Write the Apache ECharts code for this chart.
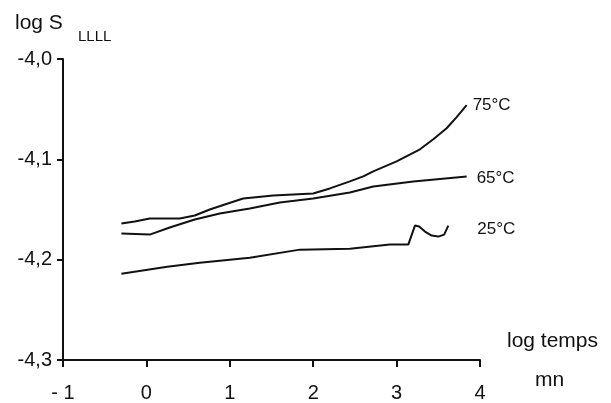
<!DOCTYPE html>
<html>
<head>
<meta charset="utf-8">
<script src="https://cdn.jsdelivr.net/npm/echarts@6/dist/echarts.min.js"></script>
<style>
html,body{margin:0;padding:0;background:#fff;}
#chart{width:611px;height:403px;}
</style>
</head>
<body>
<div id="chart"></div>
<script>
// data: [log temps (mn), log S]
var series75 = [[-0.3,-4.164],[-0.14,-4.162],[0.04,-4.159],[0.40,-4.159],[0.58,-4.156],[0.76,-4.150],[0.94,-4.145],[1.16,-4.139],[1.52,-4.136],[2.00,-4.134],[2.20,-4.129],[2.44,-4.122],[2.60,-4.117],[2.72,-4.112],[3.00,-4.102],[3.28,-4.090],[3.44,-4.080],[3.60,-4.069],[3.72,-4.058],[3.84,-4.046]];
var series65 = [[-0.3,-4.174],[0.04,-4.175],[0.28,-4.168],[0.58,-4.160],[0.88,-4.154],[1.24,-4.149],[1.60,-4.143],[2.00,-4.139],[2.44,-4.133],[2.72,-4.127],[3.20,-4.122],[3.84,-4.117]];
var series25 = [[-0.3,-4.214],[0.25,-4.207],[0.64,-4.203],[1.24,-4.198],[1.84,-4.190],[2.44,-4.189],[2.92,-4.185],[3.14,-4.185],[3.22,-4.166],[3.27,-4.167],[3.34,-4.172],[3.42,-4.176],[3.50,-4.177],[3.57,-4.175],[3.62,-4.166]];
var seriesNames = ['75°C','65°C','25°C'];
var xTicks = [-1,0,1,2,3,4];
var yTicks = [-4.3,-4.2,-4.1,-4.0];

var chart = echarts.init(document.getElementById('chart'));
var font = 'Liberation Sans, Arial, sans-serif';
function mk(name, data, dist, off) {
  return {
    name: name, type: 'line', data: data, showSymbol: false, symbol: 'none',
    lineStyle: {color: '#111', width: 2}, animation: false,
    endLabel: {show: true, formatter: name, color: '#111', fontFamily: font, fontSize: 17, distance: dist, offset: off}
  };
}
chart.setOption({
  animation: false,
  grid: {left: 63, right: 131, top: 59, bottom: 42},
  xAxis: {
    type: 'value', min: xTicks[0], max: xTicks[xTicks.length - 1], interval: 1,
    axisLine: {show: true, onZero: false, lineStyle: {color: '#111', width: 2}},
    axisTick: {show: true, length: 7, lineStyle: {color: '#111', width: 2}},
    splitLine: {show: false},
    axisLabel: {color: '#111', fontFamily: font, fontSize: 20, margin: 23,
      formatter: function (v) { return v === -1 ? '- 1' : String(v); }}
  },
  yAxis: {
    type: 'value', min: yTicks[0], max: yTicks[yTicks.length - 1], interval: 0.1,
    axisLine: {show: true, onZero: false, lineStyle: {color: '#111', width: 2}},
    axisTick: {show: true, length: 6, lineStyle: {color: '#111', width: 2}},
    splitLine: {show: false},
    axisLabel: {color: '#111', fontFamily: font, fontSize: 20, margin: 11,
      formatter: function (v) { return v.toFixed(1).replace('.', ','); }}
  },
  graphic: [
    {type: 'text', left: 15, top: 13, style: {text: 'log S', font: '21px ' + font, fill: '#111'}},
    {type: 'text', left: 78, top: 29, style: {text: 'LLLL', font: '15px ' + font, fill: '#111'}},
    {type: 'text', left: 507, top: 331, style: {text: 'log temps', font: '21px ' + font, fill: '#111'}},
    {type: 'text', left: 535, top: 370, style: {text: 'mn', font: '21px ' + font, fill: '#111'}}
  ],
  series: [
    mk(seriesNames[0], series75, 6, [0, 0]),
    mk(seriesNames[1], series65, 10, [0, 2]),
    mk(seriesNames[2], series25, 29, [0, 4])
  ]
});
</script>
</body>
</html>
